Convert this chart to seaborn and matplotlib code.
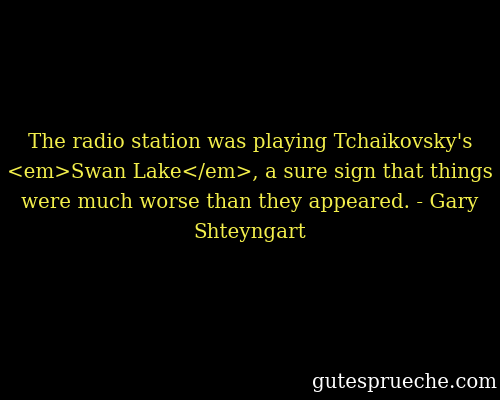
import matplotlib
matplotlib.use("Agg")
import matplotlib.pyplot as plt
import seaborn as sns

quote_lines = [
    "The radio station was playing Tchaikovsky's",
    "<em>Swan Lake</em>, a sure sign that things",
    "were much worse than they appeared. - Gary",
    "Shteyngart",
]
line_y_px = [143, 173, 203, 233]
watermark = "gutesprueche.com"

sns.set_theme(style="white")
plt.rcParams['font.family'] = ['DejaVu Serif', 'Liberation Serif']

fig = plt.figure(figsize=(5, 4), dpi=100, facecolor="black")
ax = fig.add_axes([0, 0, 1, 1])
ax.set_facecolor("black")
ax.set_xlim(0, 500)
ax.set_ylim(400, 0)
ax.axis("off")

for line, y in zip(quote_lines, line_y_px):
    ax.text(250, y, line, ha="center", va="center", color="#f3ef4c",
            fontsize=14.3, family=["DejaVu Serif"])

ax.text(497, 382, watermark, ha="right", va="center", color="white",
        fontsize=14.2, family=["DejaVu Serif"])

fig.savefig("out.png", dpi=100, facecolor="black")
